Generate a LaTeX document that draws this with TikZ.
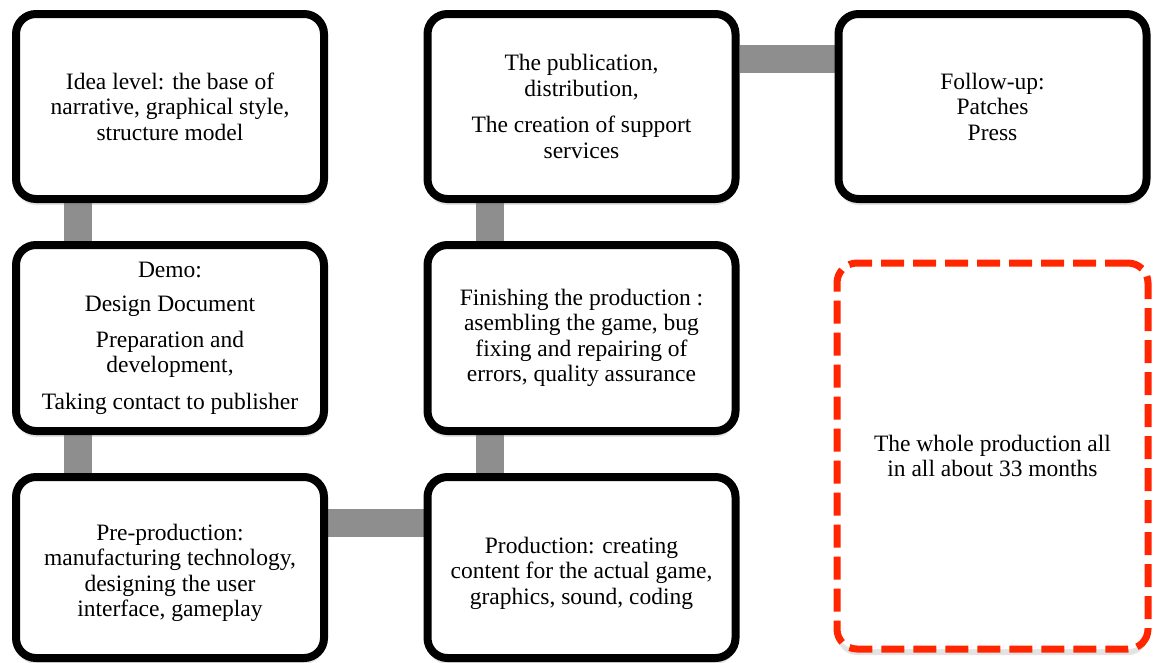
\documentclass[tikz,border=0pt]{standalone}
\usepackage{fontspec}
\setmainfont{Liberation Serif}
\usetikzlibrary{calc,shadows}
\pgfdeclarelayer{bg}
\pgfsetlayers{bg,main}
\definecolor{linkgray}{RGB}{142,142,142}
\definecolor{alertred}{RGB}{255,38,0}
% taller first line, pushes a text block a little lower in its box
\newcommand{\lowerstrut}{\rule{0pt}{27.5pt}}

\begin{document}
\begin{tikzpicture}[x=1pt,y=-1pt,
  stage/.style={draw=black, line width=8pt, rounded corners=20pt, fill=white,
    minimum width=308pt, minimum height=185pt, align=center, inner sep=0pt,
    font=\fontsize{23.5}{25.5}\selectfont,
    drop shadow={shadow xshift=0pt, shadow yshift=-6pt, opacity=0.22}},
  link/.style={draw=linkgray, line width=28pt},
  total/.style={stage, draw=alertred, line width=7pt, dash pattern=on 23pt off 9pt,
    minimum width=311pt, minimum height=386pt}]

\useasboundingbox (0,0) rectangle (1158,662);

% left column
\node[stage] (idea) at (170,106.5)
  {Idea level: the base of\\ narrative, graphical style,\\ structure model};
\node[stage, minimum height=186pt] (demo) at (170,338)
  {Demo:\\[9pt] Design Document\\[10pt] Preparation and\\ development,\\[11pt] Taking contact to publisher};
\node[stage, minimum height=181pt] (pre) at (170,567.5)
  {\lowerstrut Pre-production:\\ manufacturing technology,\\ designing the user\\ interface, gameplay};

% middle column
\node[stage, minimum height=181pt] (prod) at (581.5,567.5)
  {\lowerstrut Production: creating\\ content for the actual game,\\ graphics, sound, coding};
\node[stage, minimum height=186pt] (finish) at (581.5,338)
  {Finishing the production :\\ asembling the game, bug\\ fixing and repairing of\\ errors, quality assurance};
\node[stage] (pub) at (581.5,106.5)
  {The publication,\\ distribution,\\[11pt] The creation of support\\ services};

% right column
\node[stage] (follow) at (992.5,106.5)
  {Follow-up:\\ Patches\\ Press};
\node[total] (whole) at (992.5,456)
  {The whole production all\\ in all about 33 months};

% grey links between the stages
\begin{pgfonlayer}{bg}
  \draw[link] ($(idea.south)+(-92,0)$) -- ($(demo.north)+(-92,0)$);
  \draw[link] ($(demo.south)+(-92,0)$) -- ($(pre.north)+(-92,0)$);
  \draw[link] ($(pre.east)+(0,-45)$) -- ($(prod.west)+(0,-45)$);
  \draw[link] ($(prod.north)+(-92,0)$) -- ($(finish.south)+(-92,0)$);
  \draw[link] ($(finish.north)+(-92,0)$) -- ($(pub.south)+(-92,0)$);
  \draw[link] ($(pub.east)+(0,-47.5)$) -- ($(follow.west)+(0,-47.5)$);
\end{pgfonlayer}
\end{tikzpicture}
\end{document}
